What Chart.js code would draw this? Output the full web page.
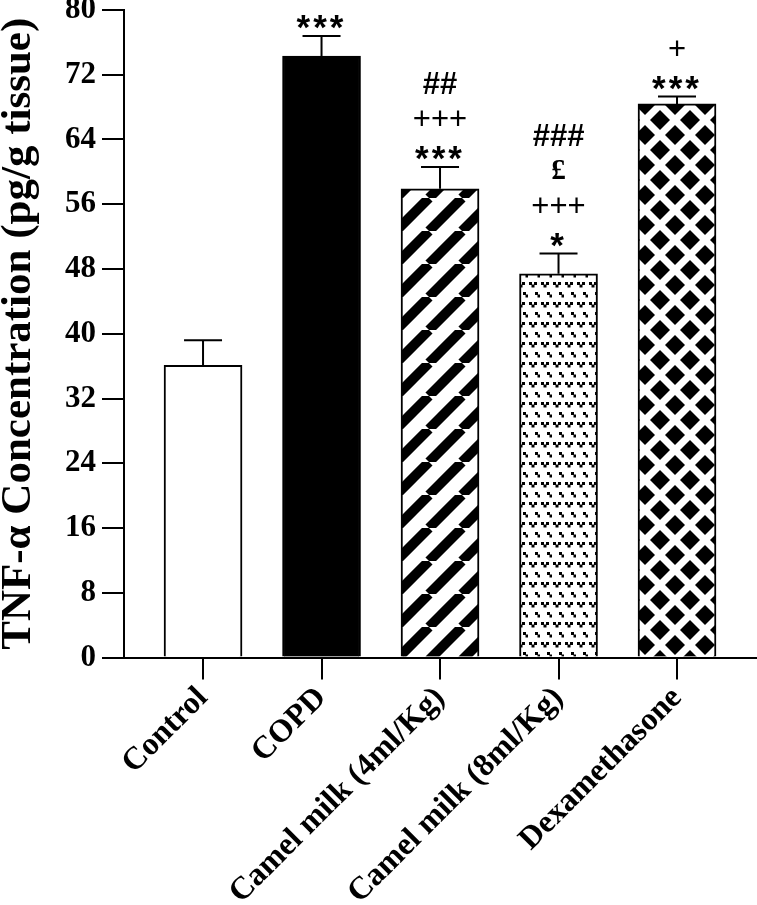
<!DOCTYPE html>
<html>
<head>
<meta charset="utf-8">
<script src="https://cdn.jsdelivr.net/npm/chart.js@4.4.1/dist/chart.umd.min.js"></script>
<style>
  html, body { margin: 0; padding: 0; background: #fff; }
  canvas { display: block; }
</style>
</head>
<body>
<canvas id="tnf-chart" width="757" height="905"></canvas>
<script>
const groups = ['Control', 'COPD', 'Camel milk (4ml/Kg)', 'Camel milk (8ml/Kg)', 'Dexamethasone'];
const tnfMean = [36.1, 74.3, 57.9, 47.4, 68.4];
const tnfSem = [3.1, 2.5, 2.7, 2.5, 0.9];
// significance marks, listed from the bar upwards
const marks = [[], ['***'], ['***', '+++', '##'], ['*', '+++', '£', '###'], ['***', '+']];
const yTicks = [0, 8, 16, 24, 32, 40, 48, 56, 64, 72, 80];

const serif = 'Liberation Serif';

const makeTile = (w, h, draw) => {
    const c = document.createElement('canvas');
    c.width = w;
    c.height = h;
    const g = c.getContext('2d');
    g.fillStyle = '#fff';
    g.fillRect(0, 0, w, h);
    g.fillStyle = '#000';
    g.strokeStyle = '#000';
    draw(g);
    return document.getElementById('tnf-chart').getContext('2d').createPattern(c, 'repeat');
};

// thick "/" stripes
const stripes = makeTile(33, 33, g => {
    g.lineWidth = 10;
    for (let k = -1; k <= 1; k++) {
        g.beginPath();
        g.moveTo(k * 33, 33);
        g.lineTo(k * 33 + 33, 0);
        g.stroke();
    }
});

// small "v" dots
const vdots = makeTile(12, 20, g => {
    const v = (x, y) => {
        g.fillRect(x, y, 3, 3);
        g.fillRect(x + 5, y, 3, 3);
        g.fillRect(x + 2.5, y + 2.5, 3, 3);
    };
    v(1, 2);
    v(7, 12);
});

// black diamonds on white lattice
const diamonds = makeTile(30, 30, g => {
    const d = (cx, cy, h) => {
        g.beginPath();
        g.moveTo(cx, cy - h);
        g.lineTo(cx + h, cy);
        g.lineTo(cx, cy + h);
        g.lineTo(cx - h, cy);
        g.closePath();
        g.fill();
    };
    [[0, 0], [30, 0], [0, 30], [30, 30], [15, 15]].forEach(p => d(p[0], p[1], 10));
});

const errorBars = {
    id: 'errorBars',
    afterDatasetsDraw(chart) {
        const ctx = chart.ctx;
        const y = chart.scales.y;
        const meta = chart.getDatasetMeta(0);
        ctx.save();
        ctx.strokeStyle = '#000';
        ctx.fillStyle = '#000';
        ctx.lineWidth = 2;
        meta.data.forEach((bar, i) => {
            const top = y.getPixelForValue(tnfMean[i] + tnfSem[i]);
            ctx.beginPath();
            ctx.moveTo(bar.x, bar.y);
            ctx.lineTo(bar.x, top);
            ctx.moveTo(bar.x - 19, top);
            ctx.lineTo(bar.x + 19, top);
            ctx.stroke();

            marks[i].forEach((m, k) => {
                if (m.includes('*')) {
                    ctx.font = 'bold 35px "Liberation Sans"';
                    ctx.letterSpacing = '3px';
                } else if (m.includes('+')) {
                    ctx.font = '31px "Liberation Sans"';
                    ctx.letterSpacing = '0px';
                } else if (m.includes('#')) {
                    ctx.font = 'bold 31px "Liberation Sans"';
                    ctx.letterSpacing = '0px';
                } else {
                    ctx.font = 'bold 29px "' + serif + '"';
                    ctx.letterSpacing = '0px';
                }
                const tm = ctx.measureText(m);
                const cy = top - 14 - k * 35;
                ctx.textAlign = 'center';
                ctx.textBaseline = 'alphabetic';
                ctx.fillText(m, bar.x, cy + (tm.actualBoundingBoxAscent - tm.actualBoundingBoxDescent) / 2);
            });
        });
        ctx.restore();
    }
};

new Chart(document.getElementById('tnf-chart'), {
    type: 'bar',
    data: {
        datasets: [{
            data: tnfMean.map((v, i) => ({x: i + 1, y: v})),
            backgroundColor: ['#fff', '#000', stripes, vdots, diamonds],
            borderColor: '#000',
            borderWidth: 2,
            barThickness: 78
        }]
    },
    options: {
        responsive: false,
        animation: false,
        devicePixelRatio: 1,
        layout: { padding: 0 },
        plugins: {
            legend: { display: false },
            tooltip: { enabled: false }
        },
        scales: {
            x: {
                type: 'linear',
                offset: false,
                min: 0.333,
                max: 5.675,
                afterBuildTicks: s => { s.ticks = groups.map((_, i) => ({value: i + 1})); },
                afterFit: s => { s.height = 247.5; s.paddingLeft = 0; s.paddingRight = 0; },
                ticks: {
                    autoSkip: false,
                    minRotation: 45,
                    maxRotation: 45,
                    padding: 0,
                    color: '#000',
                    font: { family: serif, weight: 'bold', size: 32 },
                    callback: (v, i) => groups[i]
                },
                grid: { offset: false, drawOnChartArea: false, color: '#000', lineWidth: 2, tickLength: 22 },
                border: { color: '#000', width: 2 }
            },
            y: {
                min: 0,
                max: 80,
                afterBuildTicks: s => { s.ticks = yTicks.map(v => ({value: v})); },
                afterFit: s => { s.width = 124; s.paddingTop = 10; s.paddingBottom = 0; },
                ticks: {
                    padding: 6,
                    color: '#000',
                    font: { family: serif, weight: 'bold', size: 31 }
                },
                grid: { drawOnChartArea: false, color: '#000', lineWidth: 2, tickLength: 22 },
                border: { color: '#000', width: 2 },
                title: {
                    display: true,
                    text: 'TNF-α Concentration (pg/g tissue)',
                    color: '#000',
                    padding: 0,
                    font: { family: serif, weight: 'bold', size: 43, lineHeight: 0.9 }
                }
            }
        }
    },
    plugins: [errorBars]
});
</script>
</body>
</html>
